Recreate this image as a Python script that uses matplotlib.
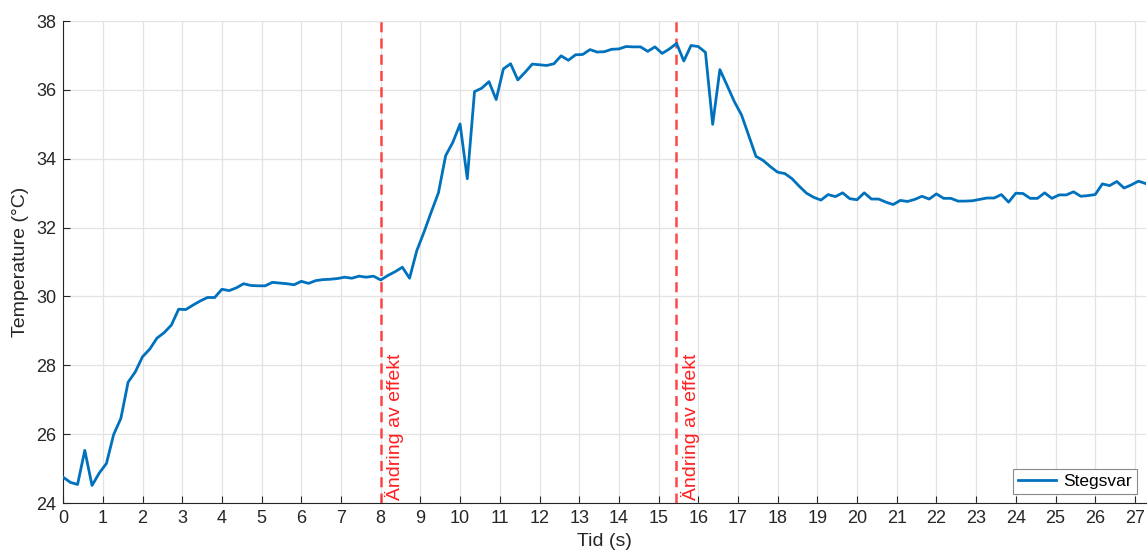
import numpy as np
import matplotlib
matplotlib.use("Agg")
import matplotlib.pyplot as plt

# Step response, temperature sampled every ~0.18 s
DT = 0.1818
TEMP = [
    24.75, 24.60, 24.54, 25.53, 24.51, 24.87, 25.15, 25.99, 26.46, 27.51,
    27.81, 28.25, 28.47, 28.79, 28.95, 29.17, 29.63, 29.62, 29.75, 29.87,
    29.97, 29.97, 30.21, 30.17, 30.25, 30.37, 30.32, 30.31, 30.31, 30.41,
    30.39, 30.37, 30.34, 30.44, 30.38, 30.46, 30.49, 30.50, 30.52, 30.56,
    30.53, 30.59, 30.56, 30.59, 30.48, 30.61, 30.72, 30.85, 30.53, 31.33,
    31.87, 32.45, 33.01, 34.09, 34.48, 35.01, 33.42, 35.95, 36.05, 36.24,
    35.72, 36.61, 36.76, 36.29, 36.51, 36.75, 36.73, 36.71, 36.76, 36.99,
    36.86, 37.02, 37.03, 37.17, 37.10, 37.11, 37.18, 37.19, 37.26, 37.25,
    37.25, 37.12, 37.25, 37.06, 37.19, 37.35, 36.84, 37.29, 37.26, 37.09,
    35.00, 36.59, 36.13, 35.66, 35.27, 34.67, 34.07, 33.95, 33.77, 33.61,
    33.57, 33.42, 33.20, 33.00, 32.88, 32.80, 32.96, 32.90, 33.01, 32.84,
    32.81, 33.01, 32.83, 32.83, 32.74, 32.67, 32.79, 32.76, 32.82, 32.91,
    32.83, 32.98, 32.85, 32.85, 32.77, 32.77, 32.78, 32.82, 32.86, 32.86,
    32.96, 32.74, 33.00, 32.99, 32.85, 32.85, 33.01, 32.85, 32.95, 32.95,
    33.04, 32.91, 32.93, 32.96, 33.27, 33.22, 33.34, 33.15, 33.24, 33.35,
    33.28,
]
STEP_TIMES = [8.0, 15.45]
STEP_LABEL = "Ändring av effekt"
X_TICKS = list(range(0, 28))
Y_TICKS = list(range(24, 39, 2))

plt.rcParams["font.family"] = ["Liberation Sans", "DejaVu Sans"]

t = np.arange(len(TEMP)) * DT

fig = plt.figure(figsize=(11.48, 5.54), dpi=100)
ax = fig.add_axes([0.055, 0.092, 0.943, 0.870])

ax.plot(t, TEMP, color="#0072BD", linewidth=2.0, label="Stegsvar", zorder=3)

for ts in STEP_TIMES:
    ax.axvline(ts, color="#ff3333", linestyle=(0, (4, 2.5)), linewidth=1.8,
               alpha=0.9, zorder=2)
    ax.annotate(STEP_LABEL, xy=(ts, 24), xytext=(3, 2), textcoords="offset points",
                rotation=90, ha="left", va="bottom", color="#ff2020", fontsize=14)

ax.set_xlim(0, t[-1])
ax.set_ylim(24, 38)
ax.set_xticks(X_TICKS)
ax.set_yticks(Y_TICKS)
ax.grid(True, color="#e3e3e3", linewidth=0.9)
ax.set_axisbelow(True)

for side in ("top", "right"):
    ax.spines[side].set_visible(False)
for side in ("left", "bottom"):
    ax.spines[side].set_color("#262626")
    ax.spines[side].set_linewidth(0.8)

ax.tick_params(direction="in", length=5, width=0.8, colors="#262626",
               labelsize=13, pad=5)
ax.set_xlabel("Tid (s)", fontsize=14, color="#262626", labelpad=4)
ax.set_ylabel("Temperature (°C)", fontsize=14, color="#262626", labelpad=5)

leg = ax.legend(loc="lower right", fontsize=12.5, fancybox=False, framealpha=1,
                edgecolor="#8a8a8a", handlelength=2.2, handletextpad=0.4,
                borderpad=0.3, borderaxespad=0.5)
leg.get_frame().set_linewidth(0.8)

fig.savefig("out.png", dpi=100)
